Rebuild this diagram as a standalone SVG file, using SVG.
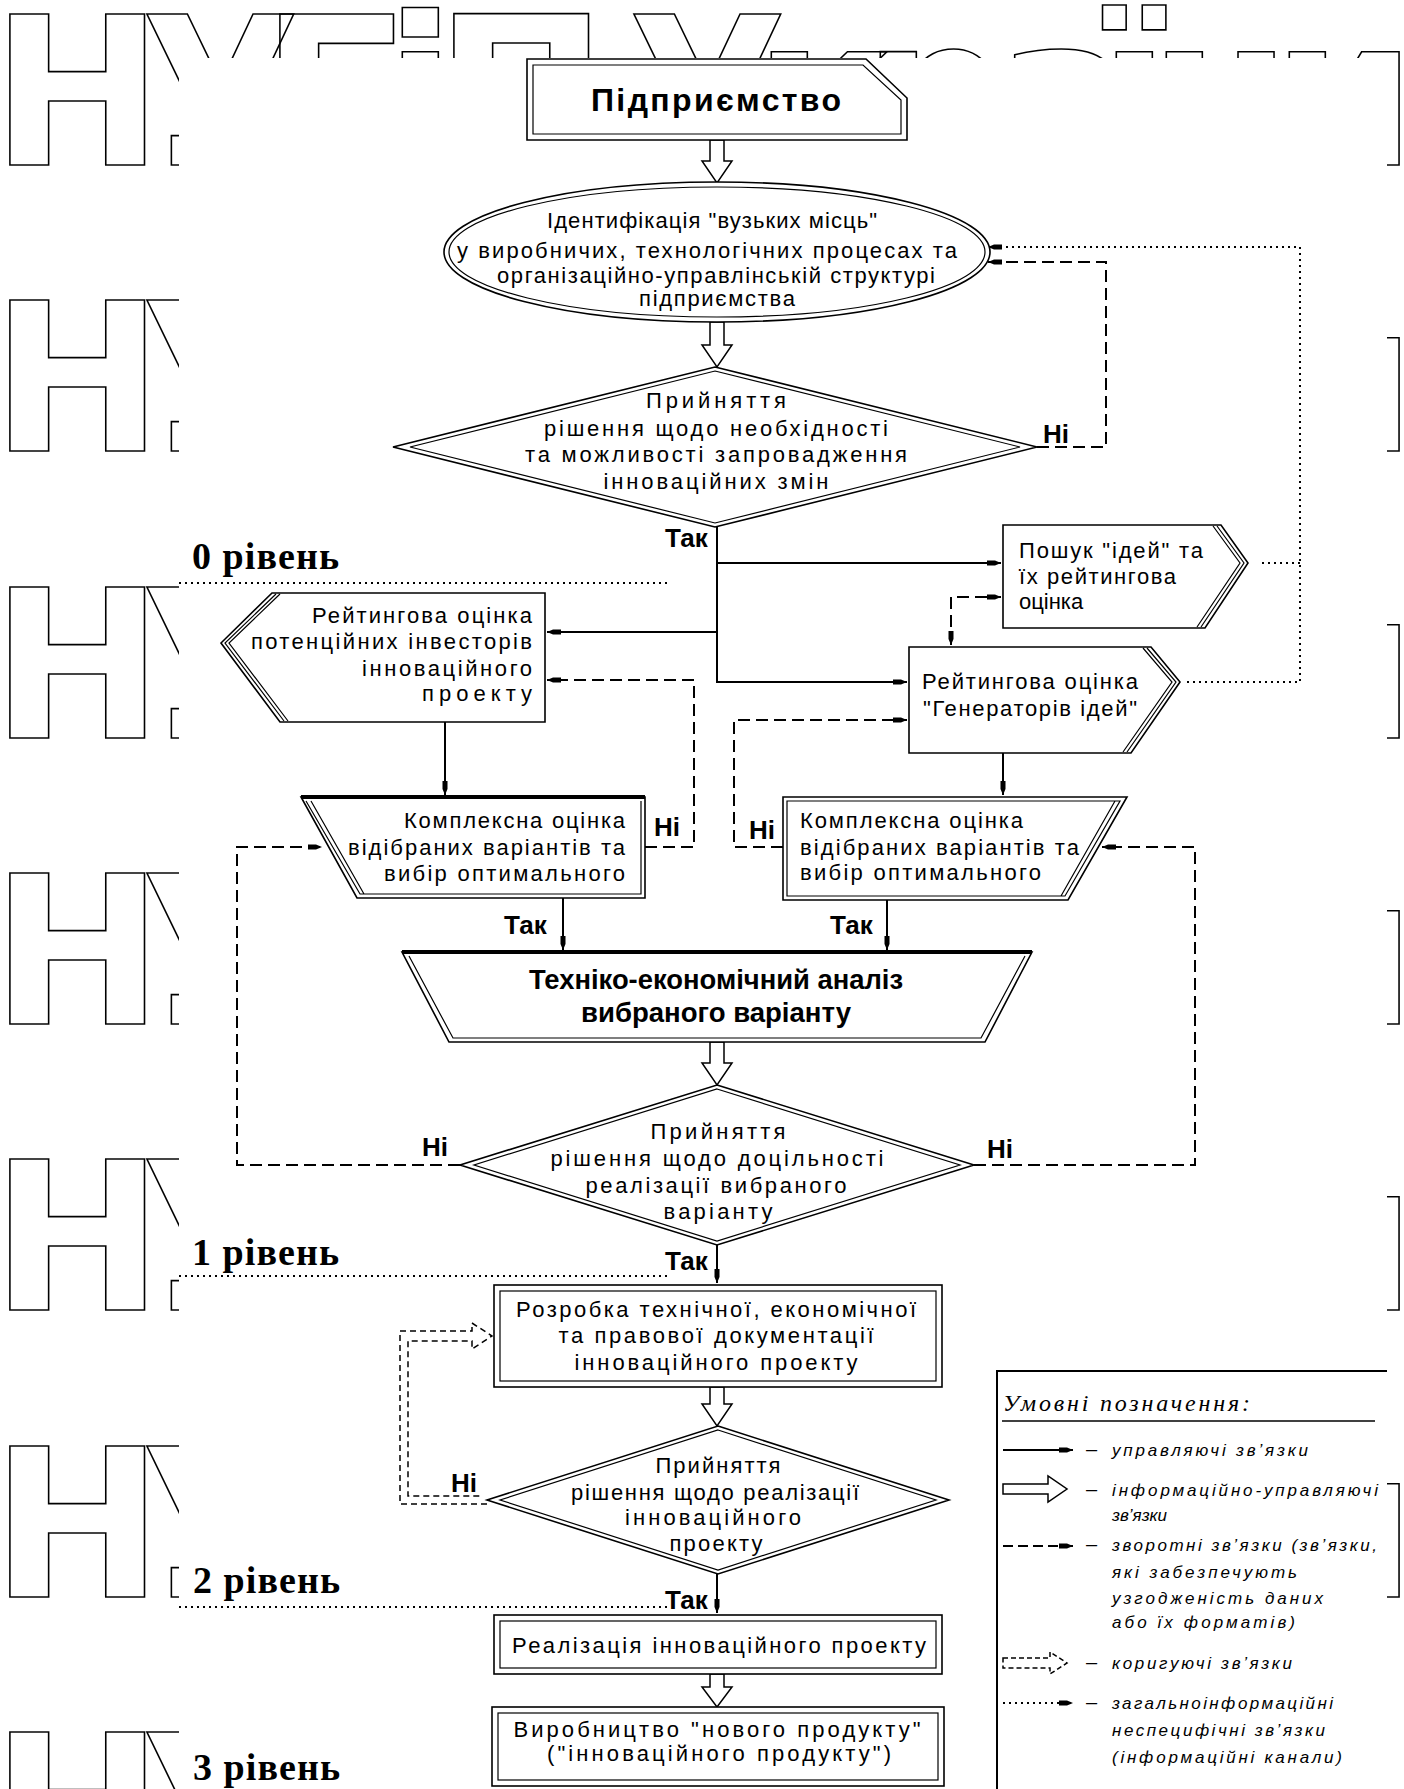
<svg xmlns="http://www.w3.org/2000/svg" width="1404" height="1789" viewBox="0 0 1404 1789">
<style>
.wm{font-family:"DejaVu Sans",sans-serif;font-weight:bold;font-size:206px;fill:none;stroke:#000;stroke-width:1.6}
.t{font-family:"Liberation Sans",Arial,sans-serif;font-size:22px;fill:#000}
.b{font-weight:bold}
.big{font-size:32px}
.mid{font-size:27px}
.yn{font-family:"Liberation Sans",Arial,sans-serif;font-size:26px;font-weight:bold;fill:#000}
.lv{font-family:"Liberation Serif","Times New Roman",serif;font-weight:bold;font-size:38px;fill:#000}
.lg{font-family:"Liberation Sans",Arial,sans-serif;font-style:italic;font-size:17px;fill:#000}
.ln{fill:none;stroke:#000;stroke-width:2}
.sh{fill:#fff;stroke:#000;stroke-width:1.6}
.in{fill:none;stroke:#000;stroke-width:1.2}
.dash{stroke-dasharray:12 6}
.dot{stroke-dasharray:2 4}
.ha{fill:#fff;stroke:#000;stroke-width:1.5}
</style>
<defs>
<marker id="ar" viewBox="0 0 14 8" refX="14" refY="4" markerWidth="14" markerHeight="8" markerUnits="userSpaceOnUse" orient="auto-start-reverse"><path d="M0,1.5 H8 L14,4 L8,6.5 H0 Z" fill="#000"/></marker>
<clipPath id="wmc" clipPathUnits="userSpaceOnUse">
<rect x="0" y="0" width="1404" height="58"/>
<rect x="0" y="0" width="179" height="1789"/>
<rect x="1387" y="0" width="17" height="1789"/>
</clipPath>
</defs>
<rect width="1404" height="1789" fill="#fff"/>
<g id="watermark" clip-path="url(#wmc)">
<text class="wm" x="-9 141 261 385 435 560 628 754 863 996 1099 1149 1272" y="165">НУБіП України</text>
<text class="wm" x="-9 141" y="451">НУ</text>
<text class="wm" x="1272" y="451">и</text>
<text class="wm" x="-9 141" y="738">НУ</text>
<text class="wm" x="1272" y="738">и</text>
<text class="wm" x="-9 141" y="1024">НУ</text>
<text class="wm" x="1272" y="1024">и</text>
<text class="wm" x="-9 141" y="1310">НУ</text>
<text class="wm" x="1272" y="1310">и</text>
<text class="wm" x="-9 141" y="1597">НУ</text>
<text class="wm" x="1272" y="1597">и</text>
<text class="wm" x="-9 141" y="1883">НУ</text>
</g>
<g id="levels" class="ln dot">
<path d="M179,583 H668 M179,1276 H670 M179,1607 H670"/>
</g>
<g id="level-labels">
<text class="lv" x="192" y="569" textLength="147" lengthAdjust="spacing">0 рівень</text>
<text class="lv" x="192" y="1265" textLength="147" lengthAdjust="spacing">1 рівень</text>
<text class="lv" x="193" y="1593" textLength="147" lengthAdjust="spacing">2 рівень</text>
<text class="lv" x="193" y="1780" textLength="147" lengthAdjust="spacing">3 рівень</text>
</g>
<g id="connectors" class="ln">
<path class="ha" d="M710,140 H724 V161 H732 L717,183 L702,161 H710 Z"/>
<path class="ha" d="M710,322 H724 V345 H732 L717,367 L702,345 H710 Z"/>
<path class="ha" d="M710,1042 H724 V1063 H732 L717,1085 L702,1063 H710 Z"/>
<path class="ha" d="M710,1387 H724 V1404 H732 L717,1426 L702,1404 H710 Z"/>
<path class="ha" d="M710,1674 H724 V1687 H732 L717,1707 L702,1687 H710 Z"/>
<path d="M717,527 V682 H907" marker-end="url(#ar)"/>
<path d="M717,563 H1001" marker-end="url(#ar)"/>
<path d="M717,632 H547" marker-end="url(#ar)"/>
<path d="M445,722 V795" marker-end="url(#ar)"/>
<path d="M1003,753 V795" marker-end="url(#ar)"/>
<path d="M563,898 V950" marker-end="url(#ar)"/>
<path d="M887,900 V950" marker-end="url(#ar)"/>
<path d="M717,1245 V1283" marker-end="url(#ar)"/>
<path d="M717,1574 V1613" marker-end="url(#ar)"/>
<path class="dash" d="M1037,447 H1106 V262 H988" marker-end="url(#ar)"/>
<path class="dash" d="M951,645 V597 H1001" marker-start="url(#ar)" marker-end="url(#ar)"/>
<path class="dash" d="M783,847 H734 V720 H907" marker-end="url(#ar)"/>
<path class="dash" d="M645,847 H694 V680 H547" marker-end="url(#ar)"/>
<path class="dash" d="M460,1165 H237 V847 H322" marker-end="url(#ar)"/>
<path class="dash" d="M974,1165 H1195 V847 H1102" marker-end="url(#ar)"/>
<path class="dot" d="M1262,563 H1300 M1187,682 H1300 V247 H988" marker-end="url(#ar)"/>
<path d="M487,1504 H400 V1331 H472 V1323 L492,1336 L472,1349 V1341 H408 V1496 H480" stroke-width="1.5" stroke-dasharray="6 4"/>
</g>
<g id="n-pidpryiemstvo">
<path class="sh" d="M527,59 H866 L907,98 V140 H527 Z" stroke-width="2.6"/>
<path class="in" d="M533,65 H863 L901,100 V134 H533 Z"/>
<text class="t b big" x="716" y="111" text-anchor="middle" textLength="250" lengthAdjust="spacing">Підприємство</text>
</g>
<g id="n-identyfikatsiia">
<ellipse class="sh" cx="717" cy="252" rx="273" ry="70"/>
<ellipse class="in" cx="717" cy="252" rx="268" ry="65" stroke-width="1.5"/>
<text class="t" x="712" y="228" text-anchor="middle" textLength="330" lengthAdjust="spacing">Ідентифікація "вузьких місць"</text>
<text class="t" x="707" y="258" text-anchor="middle" textLength="500" lengthAdjust="spacing">у виробничих, технологічних процесах та</text>
<text class="t" x="716" y="283" text-anchor="middle" textLength="438" lengthAdjust="spacing">організаційно-управлінській структурі</text>
<text class="t" x="717" y="306" text-anchor="middle" textLength="156" lengthAdjust="spacing">підприємства</text>
</g>
<g id="n-rishennia-1">
<polygon class="sh" points="715,367 1037,447 715,527 393,447"/>
<polygon class="in" points="715,371 1020,447 715,523 410,447" stroke-width="1.5"/>
<text class="t" x="716" y="408" text-anchor="middle" textLength="140" lengthAdjust="spacing">Прийняття</text>
<text class="t" x="716" y="436" text-anchor="middle" textLength="344" lengthAdjust="spacing">рішення щодо необхідності</text>
<text class="t" x="716" y="462" text-anchor="middle" textLength="382" lengthAdjust="spacing">та можливості запровадження</text>
<text class="t" x="716" y="489" text-anchor="middle" textLength="225" lengthAdjust="spacing">інноваційних змін</text>
<text class="yn" x="1043" y="443">Ні</text>
<text class="yn" x="665" y="547">Так</text>
</g>
<g id="n-investory">
<path class="sh" d="M272,593 H545 V722 H280 L221,643 Z"/>
<path class="in" d="M276,594 L225,643 L284,721 M280,594 L229,643 L288,721"/>
<text class="t" x="532" y="623" text-anchor="end" textLength="220" lengthAdjust="spacing">Рейтингова оцінка</text>
<text class="t" x="532" y="649" text-anchor="end" textLength="281" lengthAdjust="spacing">потенційних інвесторів</text>
<text class="t" x="532" y="676" text-anchor="end" textLength="170" lengthAdjust="spacing">інноваційного</text>
<text class="t" x="532" y="701" text-anchor="end" textLength="110" lengthAdjust="spacing">проекту</text>
</g>
<g id="n-poshuk">
<path class="sh" d="M1003,525 H1221 L1248,563 L1205,628 H1003 Z"/>
<path class="in" d="M1217,526 L1244,563 L1201,627 M1213,526 L1240,563 L1197,627"/>
<text class="t" x="1019" y="558" textLength="184" lengthAdjust="spacing">Пошук "ідей" та</text>
<text class="t" x="1019" y="584" textLength="157" lengthAdjust="spacing">їх рейтингова</text>
<text class="t" x="1019" y="609">оцінка</text>
</g>
<g id="n-heneratory">
<path class="sh" d="M909,647 H1151 L1180,682 L1131,753 H909 Z"/>
<path class="in" d="M1147,648 L1176,682 L1127,752 M1143,648 L1172,682 L1123,752"/>
<text class="t" x="1030" y="689" text-anchor="middle" textLength="216" lengthAdjust="spacing">Рейтингова оцінка</text>
<text class="t" x="1030" y="716" text-anchor="middle" textLength="214" lengthAdjust="spacing">"Генераторів ідей"</text>
</g>
<g id="n-kompleksna-1">
<path class="sh" d="M301,797 H645 V898 H357 Z"/>
<path d="M301,797 H645" stroke="#000" stroke-width="4"/>
<path class="in" d="M306,801 L360,894 H641 V801 M311,801 L364,894"/>
<text class="t" x="625" y="828" text-anchor="end" textLength="221" lengthAdjust="spacing">Комплексна оцінка</text>
<text class="t" x="625" y="855" text-anchor="end" textLength="277" lengthAdjust="spacing">відібраних варіантів та</text>
<text class="t" x="625" y="881" text-anchor="end" textLength="241" lengthAdjust="spacing">вибір оптимального</text>
<text class="yn" x="654" y="836">Ні</text>
<text class="yn" x="504" y="934">Так</text>
</g>
<g id="n-kompleksna-2">
<path class="sh" d="M783,797 H1127 L1068,900 H783 Z"/>
<path class="in" d="M787,801 H1120 L1065,896 H787 Z M1115,801 L1061,896"/>
<text class="t" x="800" y="828" textLength="223" lengthAdjust="spacing">Комплексна оцінка</text>
<text class="t" x="800" y="855" textLength="279" lengthAdjust="spacing">відібраних варіантів та</text>
<text class="t" x="800" y="880" textLength="241" lengthAdjust="spacing">вибір оптимального</text>
<text class="yn" x="749" y="839">Ні</text>
<text class="yn" x="830" y="934">Так</text>
</g>
<g id="n-tekhniko">
<path class="sh" d="M402,952 H1032 L985,1042 H449 Z"/>
<path d="M402,952 H1032" stroke="#000" stroke-width="4"/>
<path class="in" d="M409,956 L453,1038 H981 L1025,956"/>
<text class="t b mid" x="716" y="989" text-anchor="middle" textLength="374" lengthAdjust="spacingAndGlyphs">Техніко-економічний аналіз</text>
<text class="t b mid" x="716" y="1022" text-anchor="middle" textLength="270" lengthAdjust="spacingAndGlyphs">вибраного варіанту</text>
</g>
<g id="n-rishennia-2">
<polygon class="sh" points="717,1085 974,1165 717,1245 460,1165"/>
<polygon class="in" points="717,1089 960,1165 717,1241 474,1165" stroke-width="1.5"/>
<text class="t" x="718" y="1139" text-anchor="middle" textLength="135" lengthAdjust="spacing">Прийняття</text>
<text class="t" x="717" y="1166" text-anchor="middle" textLength="333" lengthAdjust="spacing">рішення щодо доцільності</text>
<text class="t" x="716" y="1193" text-anchor="middle" textLength="261" lengthAdjust="spacing">реалізації вибраного</text>
<text class="t" x="718" y="1219" text-anchor="middle" textLength="109" lengthAdjust="spacing">варіанту</text>
<text class="yn" x="422" y="1156">Ні</text>
<text class="yn" x="987" y="1158">Ні</text>
<text class="yn" x="665" y="1270">Так</text>
</g>
<g id="n-rozrobka">
<rect class="sh" x="494" y="1285" width="448" height="102" stroke-width="2.6"/>
<rect class="in" x="500" y="1291" width="436" height="90"/>
<text class="t" x="716" y="1317" text-anchor="middle" textLength="400" lengthAdjust="spacing">Розробка технічної, економічної</text>
<text class="t" x="716" y="1343" text-anchor="middle" textLength="315" lengthAdjust="spacing">та правової документації</text>
<text class="t" x="716" y="1370" text-anchor="middle" textLength="283" lengthAdjust="spacing">інноваційного проекту</text>
</g>
<g id="n-rishennia-3">
<polygon class="sh" points="718,1426 949,1500 718,1574 487,1500"/>
<polygon class="in" points="718,1430 936,1500 718,1570 500,1500" stroke-width="1.5"/>
<text class="t" x="718" y="1473" text-anchor="middle" textLength="125" lengthAdjust="spacing">Прийняття</text>
<text class="t" x="715" y="1500" text-anchor="middle" textLength="288" lengthAdjust="spacing">рішення щодо реалізації</text>
<text class="t" x="713" y="1525" text-anchor="middle" textLength="176" lengthAdjust="spacing">інноваційного</text>
<text class="t" x="716" y="1551" text-anchor="middle" textLength="93" lengthAdjust="spacing">проекту</text>
<text class="yn" x="451" y="1492">Ні</text>
<text class="yn" x="665" y="1609">Так</text>
</g>
<g id="n-realizatsiia">
<rect class="sh" x="494" y="1615" width="448" height="59" stroke-width="2.6"/>
<rect class="in" x="500" y="1621" width="436" height="47"/>
<text class="t" x="719" y="1653" text-anchor="middle" textLength="414" lengthAdjust="spacing">Реалізація інноваційного проекту</text>
</g>
<g id="n-vyrobnytstvo">
<rect class="sh" x="492" y="1707" width="452" height="79" stroke-width="2.6"/>
<rect class="in" x="498" y="1713" width="440" height="67"/>
<text class="t" x="717" y="1737" text-anchor="middle" textLength="407" lengthAdjust="spacing">Виробництво "нового продукту"</text>
<text class="t" x="719" y="1761" text-anchor="middle" textLength="344" lengthAdjust="spacing">("інноваційного продукту")</text>
</g>
<g id="legend">
<path class="ln" d="M997,1789 V1371 H1387"/>
<text x="1003" y="1411" font-family="Liberation Serif, Times New Roman, serif" font-style="italic" font-size="24" textLength="247" lengthAdjust="spacing">Умовні позначення:</text>
<path d="M1002,1421 H1375" stroke="#000" stroke-width="1.5"/>
<path class="ln" d="M1003,1450 H1073" marker-end="url(#ar)"/>
<path class="ha" d="M1003,1484 H1048 V1476 L1067,1489 L1048,1502 V1494 H1003 Z"/>
<path class="ln" d="M1003,1546 H1073" stroke-dasharray="10 5" marker-end="url(#ar)"/>
<path class="ha" d="M1003,1658 H1050 V1652 L1067,1663 L1050,1674 V1668 H1003 Z" stroke-dasharray="5 3"/>
<path class="ln" d="M1003,1703 H1073" stroke-dasharray="2 4" marker-end="url(#ar)"/>
<g font-family="Liberation Sans, Arial, sans-serif" font-size="20">
<text x="1086" y="1456">–</text>
<text x="1086" y="1496">–</text>
<text x="1086" y="1551">–</text>
<text x="1086" y="1669">–</text>
<text x="1086" y="1709">–</text>
</g>
<text class="lg" x="1112" y="1456" textLength="196" lengthAdjust="spacing">управляючі зв’язки</text>
<text class="lg" x="1112" y="1496" textLength="266" lengthAdjust="spacing">інформаційно-управляючі</text>
<text class="lg" x="1112" y="1521">зв’язки</text>
<text class="lg" x="1112" y="1551" textLength="265" lengthAdjust="spacing">зворотні зв’язки (зв’язки,</text>
<text class="lg" x="1112" y="1578" textLength="185" lengthAdjust="spacing">які забезпечують</text>
<text class="lg" x="1112" y="1604" textLength="211" lengthAdjust="spacing">узгодженість даних</text>
<text class="lg" x="1112" y="1628" textLength="183" lengthAdjust="spacing">або їх форматів)</text>
<text class="lg" x="1112" y="1669" textLength="180" lengthAdjust="spacing">коригуючі зв’язки</text>
<text class="lg" x="1112" y="1709" textLength="221" lengthAdjust="spacing">загальноінформаційні</text>
<text class="lg" x="1112" y="1736" textLength="213" lengthAdjust="spacing">неспецифічні зв’язки</text>
<text class="lg" x="1112" y="1763" textLength="230" lengthAdjust="spacing">(інформаційні канали)</text>
</g>
</svg>
